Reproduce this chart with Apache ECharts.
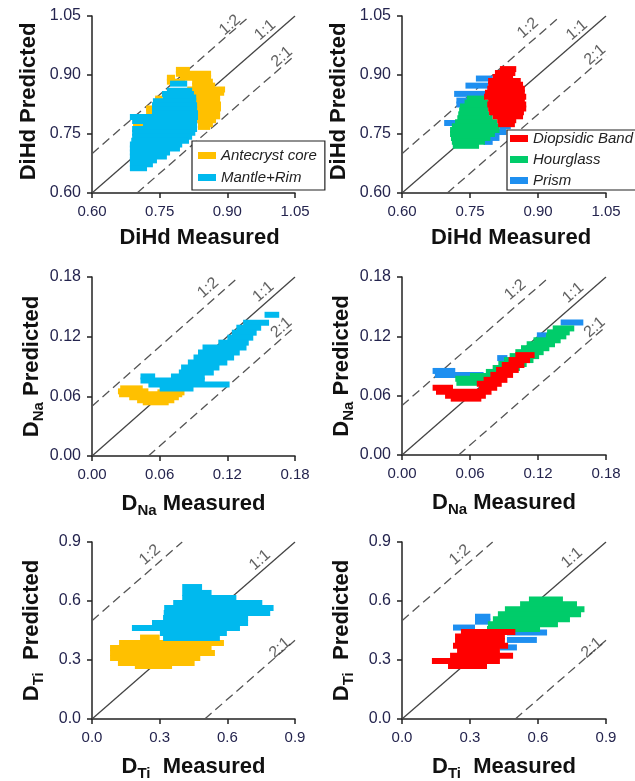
<!DOCTYPE html>
<html><head><meta charset="utf-8">
<script src="https://cdn.jsdelivr.net/npm/echarts@6/dist/echarts.min.js"></script>
<style>html,body{margin:0;padding:0;background:#fff}#c{width:635px;height:781px}</style>
</head><body><div id="c"></div>
<script>
// ---------- tick labels ----------
const ticksDiHd = [0.60, 0.75, 0.90, 1.05];
const ticksNa = [0.00, 0.06, 0.12, 0.18];
const ticksTi = [0.0, 0.3, 0.6, 0.9];
// offsets of the 1:2 and 2:1 reference lines
const offDiHd = 0.10, offNa = 0.05, offTi = 0.50;

// ---------- series data: [xStart, xEnd, y] ----------
const diHdAntecryst = [
 [0.786,0.817,0.913],[0.786,0.864,0.903],[0.766,0.784,0.893],[0.795,0.864,0.893],
 [0.766,0.806,0.883],[0.822,0.868,0.883],[0.822,0.873,0.873],[0.811,0.895,0.863],
 [0.822,0.893,0.855],[0.824,0.884,0.845],[0.826,0.884,0.835],[0.829,0.886,0.825],
 [0.831,0.886,0.815],[0.831,0.884,0.805],[0.833,0.884,0.795],[0.833,0.875,0.785],
 [0.835,0.868,0.775],[0.835,0.862,0.768],[0.740,0.757,0.840],[0.720,0.733,0.815],
 [0.720,0.733,0.807],[0.691,0.713,0.768]
];
const diHdMantleRim = [
 [0.773,0.811,0.878],[0.766,0.822,0.860],[0.755,0.826,0.852],[0.757,0.831,0.843],
 [0.735,0.831,0.833],[0.733,0.833,0.823],[0.733,0.833,0.813],[0.733,0.835,0.803],
 [0.684,0.835,0.793],[0.689,0.833,0.783],[0.713,0.833,0.773],[0.689,0.833,0.763],
 [0.689,0.829,0.753],[0.689,0.822,0.743],[0.687,0.815,0.733],[0.684,0.800,0.723],
 [0.684,0.795,0.713],[0.684,0.773,0.703],[0.684,0.766,0.693],[0.684,0.744,0.683],
 [0.684,0.735,0.673],[0.684,0.722,0.663]
];
const diHdPrism = [
 [0.763,0.800,0.891],[0.740,0.790,0.873],[0.715,0.785,0.852],[0.720,0.745,0.835],
 [0.720,0.742,0.825],[0.693,0.721,0.778],[0.815,0.840,0.770],[0.800,0.830,0.755],
 [0.790,0.815,0.740],[0.780,0.800,0.730]
];
const diHdHourglass = [
 [0.743,0.783,0.840],[0.738,0.790,0.830],[0.728,0.790,0.820],[0.726,0.790,0.810],
 [0.724,0.792,0.800],[0.722,0.800,0.790],[0.717,0.810,0.780],[0.710,0.815,0.770],
 [0.706,0.815,0.760],[0.706,0.805,0.750],[0.708,0.795,0.740],[0.710,0.783,0.730],
 [0.712,0.770,0.720]
];
const diHdDiopsidic = [
 [0.816,0.852,0.915],[0.805,0.850,0.905],[0.800,0.845,0.895],[0.790,0.862,0.885],
 [0.790,0.867,0.875],[0.788,0.871,0.865],[0.783,0.871,0.855],[0.781,0.874,0.845],
 [0.790,0.871,0.835],[0.788,0.874,0.825],[0.790,0.874,0.815],[0.792,0.869,0.805],
 [0.800,0.867,0.795],[0.810,0.852,0.785],[0.812,0.849,0.775]
];
const naAntecryst = [
 [0.025,0.045,0.068],[0.023,0.050,0.065],[0.058,0.082,0.064],[0.024,0.080,0.062],
 [0.033,0.077,0.059],[0.040,0.073,0.056],[0.045,0.068,0.054]
];
const naMantleRim = [
 [0.153,0.166,0.142],[0.134,0.157,0.134],[0.128,0.150,0.129],[0.124,0.146,0.124],
 [0.120,0.143,0.119],[0.112,0.139,0.114],[0.098,0.137,0.109],[0.094,0.131,0.104],
 [0.090,0.126,0.099],[0.085,0.120,0.094],[0.079,0.113,0.089],[0.077,0.108,0.084],
 [0.043,0.056,0.080],[0.070,0.100,0.080],[0.043,0.100,0.076],[0.050,0.122,0.072],
 [0.060,0.090,0.068]
];
const naPrism = [
 [0.140,0.160,0.134],[0.119,0.132,0.121],[0.084,0.093,0.098],
 [0.027,0.047,0.085],[0.029,0.072,0.081]
];
const naHourglass = [
 [0.133,0.152,0.128],[0.128,0.148,0.124],[0.127,0.145,0.120],[0.116,0.140,0.116],
 [0.110,0.135,0.112],[0.105,0.130,0.108],[0.100,0.125,0.104],[0.095,0.121,0.100],
 [0.090,0.116,0.096],[0.085,0.110,0.092],[0.080,0.104,0.088],[0.074,0.098,0.084],
 [0.060,0.092,0.080],[0.047,0.086,0.077],[0.048,0.075,0.073]
];
const naDiopsidic = [
 [0.100,0.117,0.101],[0.094,0.113,0.096],[0.088,0.108,0.091],[0.083,0.103,0.086],
 [0.078,0.098,0.081],[0.072,0.093,0.076],[0.066,0.088,0.072],[0.027,0.045,0.068],
 [0.068,0.084,0.068],[0.030,0.079,0.064],[0.038,0.074,0.060],[0.043,0.070,0.057]
];
const tiAntecryst = [
 [0.213,0.300,0.414],[0.400,0.425,0.405],[0.120,0.585,0.386],[0.080,0.530,0.361],
 [0.080,0.545,0.336],[0.080,0.480,0.310],[0.115,0.455,0.285],[0.190,0.355,0.270]
];
const tiMantleRim = [
 [0.400,0.488,0.671],[0.400,0.530,0.641],[0.400,0.640,0.615],[0.360,0.755,0.590],
 [0.320,0.805,0.564],[0.318,0.790,0.539],[0.315,0.692,0.514],[0.266,0.692,0.488],
 [0.177,0.656,0.463],[0.301,0.598,0.437],[0.315,0.567,0.412]
];
const tiPrism = [
 [0.322,0.390,0.520],[0.322,0.390,0.495],[0.225,0.322,0.465],[0.463,0.640,0.440],
 [0.463,0.595,0.402],[0.432,0.507,0.364]
];
const tiHourglass = [
 [0.560,0.710,0.608],[0.521,0.772,0.584],[0.454,0.805,0.558],[0.423,0.790,0.533],
 [0.401,0.741,0.507],[0.379,0.688,0.482],[0.375,0.609,0.457],[0.375,0.490,0.445]
];
const tiDiopsidic = [
 [0.260,0.500,0.442],[0.234,0.454,0.398],[0.234,0.454,0.420],[0.225,0.468,0.372],
 [0.243,0.432,0.347],[0.212,0.490,0.321],[0.132,0.432,0.295],[0.203,0.375,0.270]
];
// reference line labels: [x, y, text]
const lblDiHdL = [[0.906,1.027,'1:2'],[0.984,1.014,'1:1'],[1.021,0.946,'2:1']];
const lblDiHdR = [[0.878,1.019,'1:2'],[0.986,1.014,'1:1'],[1.026,0.951,'2:1']];
const lblNaL = [[0.103,0.169,'1:2'],[0.152,0.165,'1:1'],[0.168,0.129,'2:1']];
const lblNaR = [[0.100,0.167,'1:2'],[0.151,0.164,'1:1'],[0.170,0.129,'2:1']];
const lblTiL = [[0.257,0.834,'1:2'],[0.745,0.808,'1:1'],[0.833,0.361,'2:1']];
const lblTiR = [[0.256,0.834,'1:2'],[0.750,0.819,'1:1'],[0.838,0.361,'2:1']];

// ---------- styles ----------
const FONT = 'Liberation Sans, Arial, sans-serif';
const COL = {
  'Antecryst core': '#FFC000', 'Mantle+Rim': '#00B9EE',
  'Diopsidic Band': '#FF0000', 'Hourglass': '#00CC6A', 'Prism': '#1E8FF0'
};
const BAR_H = 6;
const grids = [
  {left:92, top:16, width:203, height:177},
  {left:402, top:16, width:204, height:177},
  {left:92, top:277, width:203, height:179},
  {left:402, top:277, width:204, height:178},
  {left:92, top:542, width:203, height:177},
  {left:402, top:542, width:204, height:177}
];
const rich = {
  m: {fontSize:22, fontWeight:'bold', color:'#111', fontFamily:FONT},
  s: {fontSize:15, fontWeight:'bold', color:'#111', fontFamily:FONT, padding:[13,0,0,0]}
};
const panels = [
  {ticks:ticksDiHd, dec:2, off:offDiHd, xName:'DiHd Measured', yName:'DiHd Predicted', lbl:lblDiHdL, yGap:52, xPad:[0,0,0,12], yPad:[0,0,0,6],
   series:[['Antecryst core',diHdAntecryst],['Mantle+Rim',diHdMantleRim]]},
  {ticks:ticksDiHd, dec:2, off:offDiHd, xName:'DiHd Measured', yName:'DiHd Predicted', lbl:lblDiHdR, yGap:52, xPad:[0,0,0,14], yPad:[0,0,0,6],
   series:[['Prism',diHdPrism],['Hourglass',diHdHourglass],['Diopsidic Band',diHdDiopsidic]]},
  {ticks:ticksNa, dec:2, off:offNa, xName:'{m|D}{s|Na}{m| Measured}', yName:'{m|D}{s|Na}{m| Predicted}', lbl:lblNaL, yGap:46, xPad:0, yPad:0,
   series:[['Antecryst core',naAntecryst],['Mantle+Rim',naMantleRim]]},
  {ticks:ticksNa, dec:2, off:offNa, xName:'{m|D}{s|Na}{m| Measured}', yName:'{m|D}{s|Na}{m| Predicted}', lbl:lblNaR, yGap:46, xPad:0, yPad:0,
   series:[['Prism',naPrism],['Hourglass',naHourglass],['Diopsidic Band',naDiopsidic]]},
  {ticks:ticksTi, dec:1, off:offTi, xName:'{m|D}{s|Ti}{m|  Measured}', yName:'{m|D}{s|Ti}{m|  Predicted}', lbl:lblTiL, yGap:46, xPad:0, yPad:0,
   series:[['Antecryst core',tiAntecryst],['Mantle+Rim',tiMantleRim]]},
  {ticks:ticksTi, dec:1, off:offTi, xName:'{m|D}{s|Ti}{m|  Measured}', yName:'{m|D}{s|Ti}{m|  Predicted}', lbl:lblTiR, yGap:46, xPad:0, yPad:0,
   series:[['Prism',tiPrism],['Hourglass',tiHourglass],['Diopsidic Band',tiDiopsidic]]}
];

function barItem(params, api) {
  const y = api.value(2);
  const a = api.coord([api.value(0), y]);
  const b = api.coord([api.value(1), y]);
  return {type:'rect', shape:{x:a[0], y:a[1]-BAR_H/2, width:b[0]-a[0], height:BAR_H},
          style:{fill: api.visual('color')}};
}

const xAxis = [], yAxis = [], series = [];
panels.forEach((p, i) => {
  const mn = p.ticks[0], mx = p.ticks[p.ticks.length-1];
  const iv = Math.round((p.ticks[1]-p.ticks[0])*1000)/1000;
  const base = {
    gridIndex:i, type:'value', min:mn, max:mx, interval:iv,
    splitLine:{show:false},
    axisLine:{show:true, onZero:false, lineStyle:{color:'#222', width:1.5}},
    axisTick:{show:true, inside:false, length:5, lineStyle:{color:'#222', width:1.5}},
    nameLocation:'middle', nameMoveOverlap:false
  };
  const nts = pad => ({fontSize:22, fontWeight:'bold', color:'#111', fontFamily:FONT, rich:rich, padding:pad});
  const lab = (fs, mg) => ({show:true, margin:mg, fontSize:fs, color:'#24244e', fontFamily:FONT,
               formatter: v => v.toFixed(p.dec)});
  xAxis.push(Object.assign({}, base, {name:p.xName, nameGap:34, axisLabel:lab(15, 11), nameTextStyle:nts(p.xPad)}));
  yAxis.push(Object.assign({}, base, {name:p.yName, nameGap:p.yGap, nameRotate:90, axisLabel:lab(16, 11), nameTextStyle:nts(p.yPad)}));
  // reference lines
  const lineBase = {type:'line', xAxisIndex:i, yAxisIndex:i, symbol:'none', silent:true, z:1,
                    animation:false};
  series.push(Object.assign({}, lineBase, {data:[[mn,mn],[mx,mx]],
      lineStyle:{color:'#444', width:1.3, type:'solid'}}));
  series.push(Object.assign({}, lineBase, {data:[[mn,mn+p.off],[mx-p.off,mx]],
      lineStyle:{color:'#555', width:1.3, type:[9,5]}}));
  series.push(Object.assign({}, lineBase, {data:[[mn+p.off,mn],[mx,mx-p.off]],
      lineStyle:{color:'#555', width:1.3, type:[9,5]}}));
  // data bars
  p.series.forEach(([name, data]) => {
    series.push({type:'custom', name:name, xAxisIndex:i, yAxisIndex:i, data:data,
      encode:{x:[0,1], y:2}, renderItem:barItem, itemStyle:{color:COL[name]},
      clip:false, animation:false, z:2});
  });
  // reference line labels
  series.push({type:'scatter', xAxisIndex:i, yAxisIndex:i, data:p.lbl, symbolSize:0, silent:true,
    z:3, animation:false,
    label:{show:true, position:'inside', rotate:41, formatter: q => q.value[2],
           fontSize:16, color:'#3a3a3a', fontFamily:FONT}});
});

const legendBase = {orient:'vertical', icon:'rect', itemWidth:18, itemHeight:7, itemGap:7,
  selectedMode:false, borderColor:'#222', borderWidth:1.2, backgroundColor:'#fff',
  textStyle:{fontStyle:'italic', fontSize:15, color:'#222', fontFamily:FONT}};
const option = {
  animation:false,
  grid: grids.map(g => Object.assign({outerBoundsMode:'none', containLabel:false}, g)),
  xAxis, yAxis, series,
  legend:[
    Object.assign({}, legendBase, {left:192, top:141, padding:[7,8,5,6],
      data:['Antecryst core','Mantle+Rim']}),
    Object.assign({}, legendBase, {left:507, top:130, padding:[1,8,2,3], itemGap:6,
      data:['Diopsidic Band','Hourglass','Prism']})
  ]
};
const chart = echarts.init(document.getElementById('c'), null, {renderer:'canvas'});
chart.setOption(option);
</script></body></html>
